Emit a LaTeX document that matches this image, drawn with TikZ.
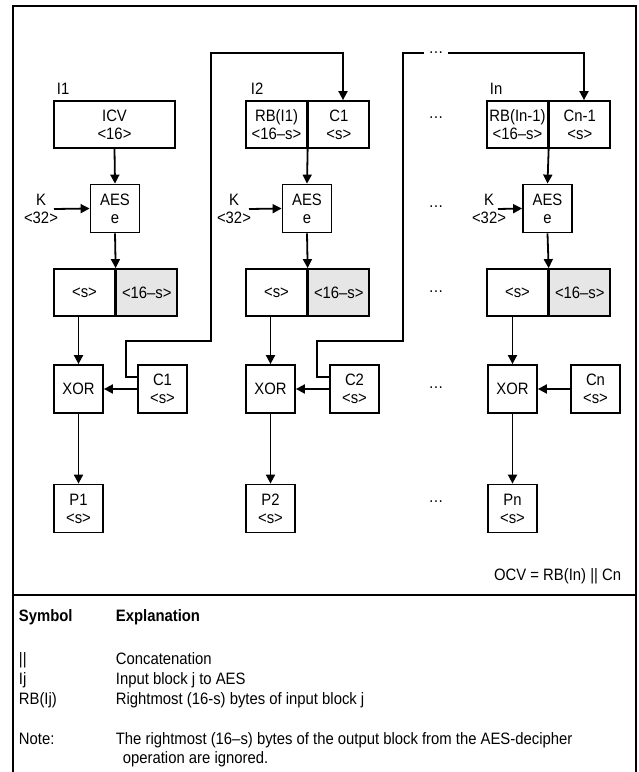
\documentclass[tikz,border=0pt]{standalone}
\usepackage{fontspec}
\setmainfont[FakeStretch=0.9]{Liberation Sans}
\usetikzlibrary{arrows.meta, positioning}
\definecolor{BoxGray}{HTML}{E6E6E6}

\begin{document}
\begin{tikzpicture}[
    x=1pt, y=-1pt,
    line width=1.8pt,
    blk/.style={draw, line width=1.8pt, inner sep=0pt, align=center, font=\fontsize{16.5}{18}\selectfont},
    wide/.style={blk, minimum width=121pt, minimum height=47pt},
    half/.style={blk, minimum width=60.5pt, minimum height=47pt},
    sq/.style={blk, minimum width=49pt, minimum height=48pt},
    txt/.style={inner sep=1pt, align=center, font=\fontsize{16.5}{18}\selectfont},
    ellip/.style={inner xsep=4pt, inner ysep=1pt, font=\fontsize{16.5}{18}\selectfont},
    arr/.style={-{Triangle[length=9pt, width=9pt]}, line width=1.8pt}
]
\useasboundingbox (0,0) rectangle (639,772);

% frame and divider
\draw (13,775) -- (13,6) -- (636,6) -- (636,775);
\draw (13,595) -- (636,595);

% column 1
\node[txt, anchor=base west] (lab1) at (55,94) {I1};
\node[wide] (in1) at (114.5,124.5) {ICV\\<16>};
\node[sq] (aes1) at (115,208.5) {AES\\e};
\node[txt] (key1) at (41,209) {K\\<32>};
\coordinate (k1) at (54,209);
\node[half] (out1a) at (84.5,292.5) {<s>};
\node[half, fill=BoxGray, right=0pt of out1a] (out1b) {<16–s>};
\node[sq] (xor1) at (78.5,389) {XOR};
\node[sq] (c1) at (162.5,389) {C1\\<s>};
\node[sq] (p1) at (78.5,508.5) {P1\\<s>};

% column 2
\node[txt, anchor=base west] (lab2) at (249,94) {I2};
\node[half] (in2a) at (276.5,124.5) {RB(I1)\\<16–s>};
\node[half, right=0pt of in2a] (in2b) {C1\\<s>};
\node[sq] (aes2) at (307,208.5) {AES\\e};
\node[txt] (key2) at (234,209) {K\\<32>};
\coordinate (k2) at (249,209);
\node[half] (out2a) at (276.5,292.5) {<s>};
\node[half, fill=BoxGray, right=0pt of out2a] (out2b) {<16–s>};
\node[sq] (xor2) at (270.5,389) {XOR};
\node[sq] (c2) at (354.5,389) {C2\\<s>};
\node[sq] (p2) at (270.5,508.5) {P2\\<s>};

% column n
\node[txt, anchor=base west] (lab3) at (488,94) {In};
\node[half] (in3a) at (517.5,124.5) {RB(In-1)\\<16–s>};
\node[half, right=0pt of in3a] (in3b) {Cn-1\\<s>};
\node[sq] (aes3) at (547.5,208.5) {AES\\e};
\node[txt] (key3) at (489,209) {K\\<32>};
\coordinate (k3) at (498,209);
\node[half] (out3a) at (517.5,292.5) {<s>};
\node[half, fill=BoxGray, right=0pt of out3a] (out3b) {<16–s>};
\node[sq] (xor3) at (512.5,389) {XOR};
\node[sq] (c3) at (595.5,389) {Cn\\<s>};
\node[sq] (p3) at (512.5,508.5) {Pn\\<s>};

% gaps between column 2 and column n
\node[ellip] (dtop) at (436,53) {\ldots};
\node[ellip] (d1) at (436,118) {\ldots};
\node[ellip] (d2) at (436,207) {\ldots};
\node[ellip] (d3) at (436,292) {\ldots};
\node[ellip] (d4) at (436,388) {\ldots};
\node[ellip] (d5) at (436,502) {\ldots};

% data flow
\draw[arr] (in1.south) -- (aes1.north);
\draw[arr] (k1) -- (aes1.west);
\draw[arr] (aes1.south) -- (out1a.north east);
\draw[arr] (xor1 |- out1a.south) -- (xor1.north);
\draw[arr] (c1.west) -- (xor1.east);
\draw[arr] (xor1.south) -- (p1.north);

\draw[arr] (in2a.south east) -- (aes2.north);
\draw[arr] (k2) -- (aes2.west);
\draw[arr] (aes2.south) -- (out2a.north east);
\draw[arr] (xor2 |- out2a.south) -- (xor2.north);
\draw[arr] (c2.west) -- (xor2.east);
\draw[arr] (xor2.south) -- (p2.north);

\draw[arr] (in3a.south east) -- (aes3.north);
\draw[arr] (k3) -- (aes3.west);
\draw[arr] (aes3.south) -- (out3a.north east);
\draw[arr] (xor3 |- out3a.south) -- (xor3.north);
\draw[arr] (c3.west) -- (xor3.east);
\draw[arr] (xor3.south) -- (p3.north);

% ciphertext feedback
\coordinate (f2) at (343,53);
\coordinate (fn) at (584,53);
\draw[arr] ([yshift=12pt]c1.west) -- ++(-11,0) |- (211,341) |- (f2) -- (f2 |- in2b.north);
\draw ([yshift=12pt]c2.west) -- ++(-12,0) |- (403,341) |- (dtop.west);
\draw[arr] (dtop.east) -- (fn) -- (fn |- in3b.north);

\node[txt, anchor=east] (ocv) at (623,576) {OCV = RB(In) || Cn};

% legend
\node[txt, anchor=base west, font=\fontsize{16.5}{18}\selectfont\bfseries] (symhead) at (17,621) {Symbol};
\node[txt, anchor=base west, font=\fontsize{16.5}{18}\selectfont\bfseries] (exphead) at (114,621) {Explanation};
\node[txt, anchor=base west] (sym1) at (17,664) {||};
\node[txt, anchor=base west] (exp1) at (114,664) {Concatenation};
\node[txt, anchor=base west] (sym2) at (17,684) {Ij};
\node[txt, anchor=base west] (exp2) at (114,684) {Input block j to AES};
\node[txt, anchor=base west] (sym3) at (17,704) {RB(Ij)};
\node[txt, anchor=base west] (exp3) at (114,704) {Rightmost (16-s) bytes of input block j};
\node[txt, anchor=base west] (sym4) at (17,744) {Note:};
\node[txt, anchor=base west] (exp4) at (114,744) {The rightmost (16–s) bytes of the output block from the AES-decipher};
\node[txt, anchor=base west] (exp5) at (121,763) {operation are ignored.};
\end{tikzpicture}
\end{document}
